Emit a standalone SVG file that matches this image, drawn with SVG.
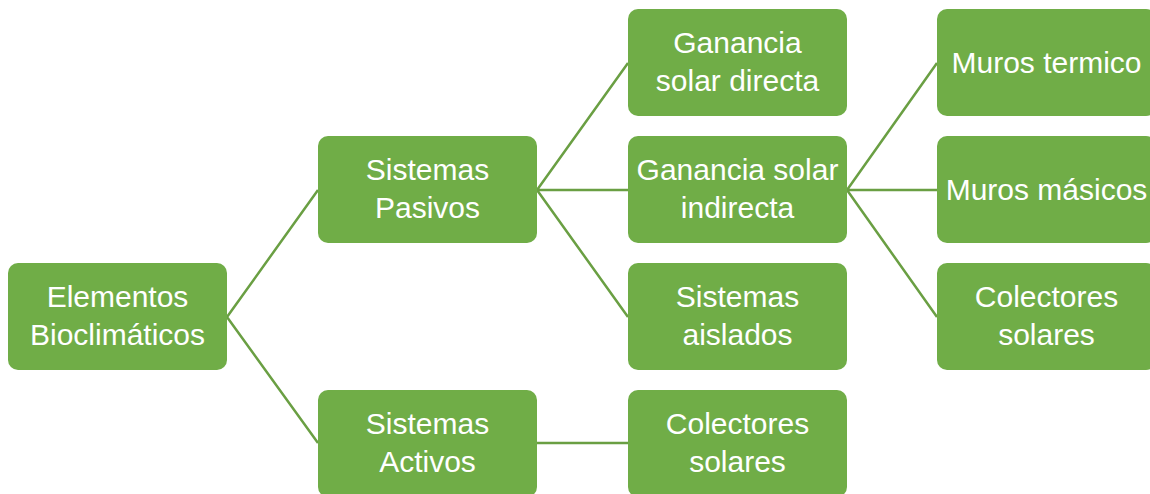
<svg xmlns="http://www.w3.org/2000/svg" width="1150" height="494" viewBox="0 0 1150 494">
<style>
.box{fill:#70AD47;}
.t{font-family:"Liberation Sans",Arial,sans-serif;font-size:30px;fill:#FFFFFF;text-anchor:middle;}
.c{stroke:#6A9F43;stroke-width:2.5;fill:none;}
</style>
<rect width="1150" height="494" fill="#FFFFFF"/>
<g id="connectors">
<path class="c" d="M227,317 L318,190 M227,317 L318,443"/>
<path class="c" d="M537,190 L628,63 M537,190 L628,190 M537,190 L628,317"/>
<path class="c" d="M537,443 L628,443"/>
<path class="c" d="M847,190 L937,63 M847,190 L937,190 M847,190 L937,317"/>
</g>
<g id="n-elementos">
<rect class="box" x="8" y="263" width="219" height="107" rx="10"/>
<text class="t" x="117.5" y="307">Elementos</text>
<text class="t" x="117.5" y="345">Bioclimáticos</text>
</g>
<g id="n-pasivos">
<rect class="box" x="318" y="136" width="219" height="107" rx="10"/>
<text class="t" x="427.5" y="180">Sistemas</text>
<text class="t" x="427.5" y="218">Pasivos</text>
</g>
<g id="n-activos">
<rect class="box" x="318" y="390" width="219" height="107" rx="10"/>
<text class="t" x="427.5" y="434">Sistemas</text>
<text class="t" x="427.5" y="472">Activos</text>
</g>
<g id="n-directa">
<rect class="box" x="628" y="9" width="219" height="107" rx="10"/>
<text class="t" x="737.5" y="53">Ganancia</text>
<text class="t" x="737.5" y="91">solar directa</text>
</g>
<g id="n-indirecta">
<rect class="box" x="628" y="136" width="219" height="107" rx="10"/>
<text class="t" x="737.5" y="180">Ganancia solar</text>
<text class="t" x="737.5" y="218">indirecta</text>
</g>
<g id="n-aislados">
<rect class="box" x="628" y="263" width="219" height="107" rx="10"/>
<text class="t" x="737.5" y="307">Sistemas</text>
<text class="t" x="737.5" y="345">aislados</text>
</g>
<g id="n-colectores-activos">
<rect class="box" x="628" y="390" width="219" height="107" rx="10"/>
<text class="t" x="737.5" y="434">Colectores</text>
<text class="t" x="737.5" y="472">solares</text>
</g>
<g id="n-muros-termico">
<rect class="box" x="937" y="9" width="219" height="107" rx="10"/>
<text class="t" x="1046.5" y="73">Muros termico</text>
</g>
<g id="n-muros-masicos">
<rect class="box" x="937" y="136" width="219" height="107" rx="10"/>
<text class="t" x="1046.5" y="200">Muros másicos</text>
</g>
<g id="n-colectores-pasivos">
<rect class="box" x="937" y="263" width="219" height="107" rx="10"/>
<text class="t" x="1046.5" y="307">Colectores</text>
<text class="t" x="1046.5" y="345">solares</text>
</g>
</svg>
